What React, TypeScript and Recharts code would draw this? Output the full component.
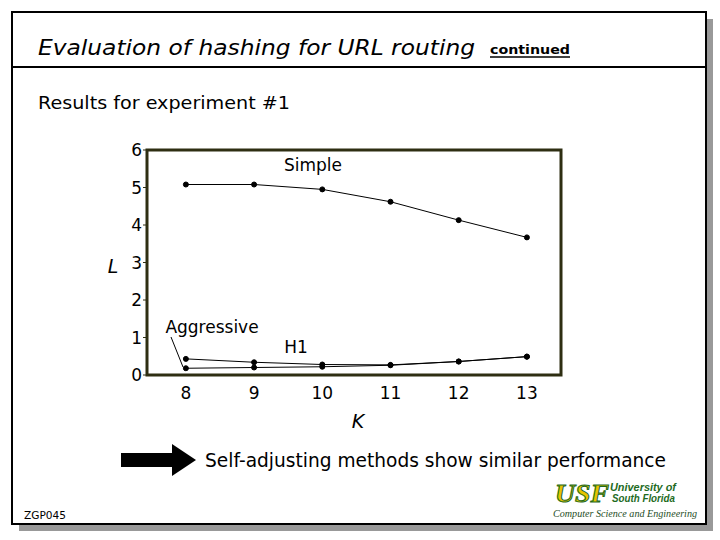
import React from 'react';
import { LineChart, Line, XAxis, YAxis, ReferenceArea } from 'recharts';

const kValues = [8, 9, 10, 11, 12, 13];
const simple = [5.08, 5.08, 4.95, 4.62, 4.13, 3.67];
const h1 = [0.43, 0.34, 0.28, 0.27, 0.36, 0.49];
const aggressive = [0.18, 0.2, 0.22, 0.26, 0.36, 0.49];
const yTicks = [0, 1, 2, 3, 4, 5, 6];
const minorTicks = [8.5, 9.5, 10.5, 11.5, 12.5];
const xDomain = [7.43, 13.5];
const yDomain = [0, 6];

const data = kValues.map((k, i) => ({
  k,
  simple: simple[i],
  h1: h1[i],
  aggressive: aggressive[i],
}));

const FONT = '"DejaVu Sans", sans-serif';
const OLIVE = '#2e2e12';

const Slide = () => (
  <svg width={720} height={540} style={{ position: 'absolute', left: 0, top: 0 }}>
    {/* frame + shadow */}
    <rect x={19} y={19} width={694} height={512} fill="#999" />
    <rect x={12} y={12} width={694} height={512} fill="#fff" stroke="#000" strokeWidth={2} />
    <line x1={12} y1={67} x2={706} y2={67} stroke="#000" strokeWidth={2} />

    <text x={38} y={55} fontFamily={FONT} fontStyle="italic" fontSize={21} textLength={437} lengthAdjust="spacingAndGlyphs">
      Evaluation of hashing for URL routing
    </text>
    <text x={490} y={54} fontFamily={FONT} fontWeight="bold" fontSize={13} textLength={80} lengthAdjust="spacingAndGlyphs">
      continued
    </text>
    <line x1={490} y1={57} x2={570} y2={57} stroke="#000" strokeWidth={1.5} />

    <text x={38} y={109} fontFamily={FONT} fontSize={18} textLength={252} lengthAdjust="spacingAndGlyphs">
      Results for experiment #1
    </text>

    {/* axis titles and series labels */}
    <text x={113} y={273} fontFamily={FONT} fontStyle="italic" fontSize={19} textAnchor="middle">L</text>
    <text x={358} y={428} fontFamily={FONT} fontStyle="italic" fontSize={19} textAnchor="middle">K</text>
    <text x={313} y={171} fontFamily={FONT} fontSize={17} textAnchor="middle">Simple</text>
    <text x={212} y={333} fontFamily={FONT} fontSize={17} textAnchor="middle">Aggressive</text>
    <text x={296} y={353} fontFamily={FONT} fontSize={17} textAnchor="middle">H1</text>
    <line x1={171} y1={337} x2={183} y2={367} stroke="#000" strokeWidth={1} />

    {/* arrow + conclusion */}
    <polygon points="121,453 172,453 172,444 196,460 172,476 172,467 121,467" fill="#000" />
    <text x={205} y={467} fontFamily={FONT} fontSize={19} textLength={461} lengthAdjust="spacingAndGlyphs">
      Self-adjusting methods show similar performance
    </text>

    <text x={24} y={519} fontFamily={FONT} fontSize={11} textLength={42} lengthAdjust="spacingAndGlyphs">ZGP045</text>

    {/* logo */}
    <text x={555} y={502} fontFamily='"Liberation Serif", serif' fontWeight="bold" fontStyle="italic" fontSize={26}
      fill="#e8c400" stroke="#1e6b1e" strokeWidth={1} textLength={54} lengthAdjust="spacingAndGlyphs">USF</text>
    <text x={610} y={491} fontFamily='"Liberation Sans", sans-serif' fontWeight="bold" fontStyle="italic" fontSize={11}
      fill="#1e6b1e" textLength={66} lengthAdjust="spacingAndGlyphs">University of</text>
    <text x={612} y={502} fontFamily='"Liberation Sans", sans-serif' fontWeight="bold" fontStyle="italic" fontSize={11}
      fill="#1e6b1e" textLength={63} lengthAdjust="spacingAndGlyphs">South Florida</text>
    <text x={553} y={517} fontFamily='"Liberation Serif", serif' fontStyle="italic" fontSize={10}
      fill="#1e4d1e" textLength={144} lengthAdjust="spacingAndGlyphs">Computer Science and Engineering</text>
  </svg>
);

const App = () => {
  return (
    <div style={{ position: 'absolute', left: 0, top: 0, width: 720, height: 540, background: '#fff' }}>
      <Slide />
      <div style={{ position: 'absolute', left: 0, top: 0 }}>
        <LineChart width={720} height={540} data={data} margin={{ top: 150, right: 159, bottom: 135, left: 107 }}>
          <XAxis
            dataKey="k"
            type="number"
            domain={xDomain}
            ticks={kValues}
            allowDataOverflow
            axisLine={false}
            tickLine={false}
            height={30}
            tickMargin={6}
            tick={{ fill: '#000', fontSize: 17, fontFamily: FONT }}
          />
          <XAxis
            xAxisId="minor"
            dataKey="k"
            type="number"
            domain={xDomain}
            ticks={minorTicks}
            allowDataOverflow
            axisLine={false}
            tickSize={3}
            tickFormatter={() => ''}
            stroke={OLIVE}
            height={0}
          />
          <YAxis
            domain={yDomain}
            ticks={yTicks}
            axisLine={false}
            tickSize={4}
            tickMargin={1}
            stroke={OLIVE}
            width={40}
            tick={{ fill: '#000', fontSize: 17, fontFamily: FONT }}
          />
          <ReferenceArea
            x1={xDomain[0]}
            x2={xDomain[1]}
            y1={yDomain[0]}
            y2={yDomain[1]}
            ifOverflow="visible"
            fill="#fff"
            fillOpacity={0}
            stroke={OLIVE}
            strokeWidth={3}
            strokeOpacity={1}
          />
          <Line dataKey="simple" stroke="#000" strokeWidth={1} dot={{ r: 2.5, fill: '#000', stroke: '#000' }} isAnimationActive={false} />
          <Line dataKey="h1" stroke="#000" strokeWidth={1} dot={{ r: 2.5, fill: '#000', stroke: '#000' }} isAnimationActive={false} />
          <Line dataKey="aggressive" stroke="#000" strokeWidth={1} dot={{ r: 2.5, fill: '#000', stroke: '#000' }} isAnimationActive={false} />
        </LineChart>
      </div>
    </div>
  );
};

export default App;
